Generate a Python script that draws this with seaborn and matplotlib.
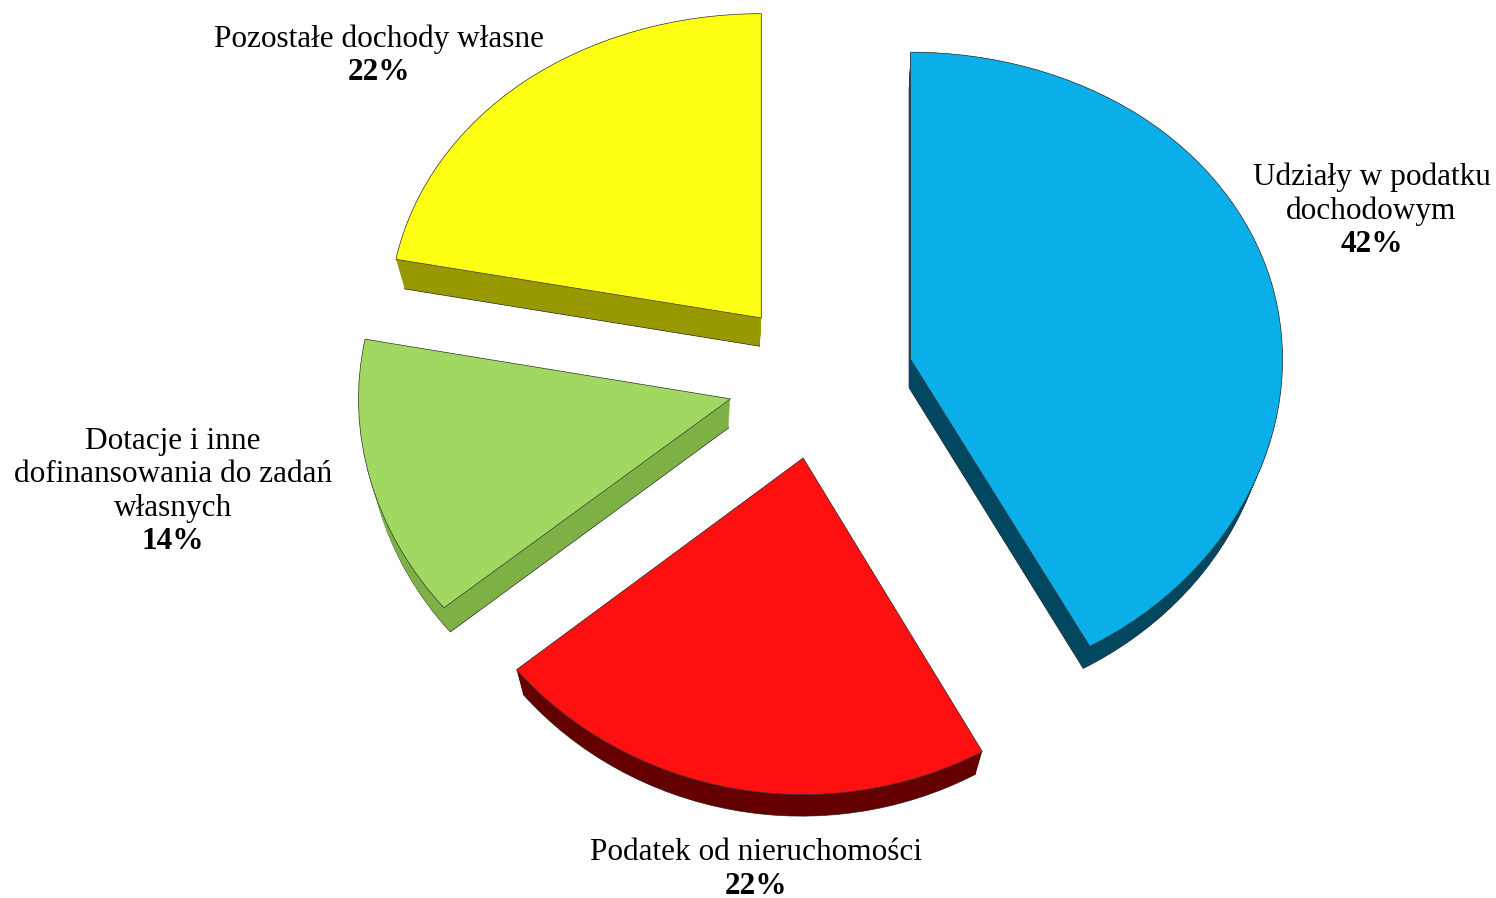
import numpy as np
import matplotlib.pyplot as plt
import seaborn as sns

labels = ["Udziały w podatku\ndochodowym",
          "Podatek od nieruchomości",
          "Dotacje i inne\ndofinansowania do zadań\nwłasnych",
          "Pozostałe dochody własne"]
shares = [42, 22, 14, 22]
top_colors = ["#0AAEE8", "#FF1010", "#A0D862", "#FFFF14"]
side_colors = ["#00475F", "#640000", "#7DB045", "#989800"]
explode = [0.25, 0.25, 0.25, 0.25]
label_dist = [1.555, 1.547, 1.80, 1.56]
label_turn = [3.3, 4.4, 0.3, 9.9]

sns.set_theme(style="white")
plt.rcParams["font.family"] = ["Liberation Serif", "DejaVu Serif"]

# mild perspective on y: back of the pie squeezed, front stretched
k = 0.035
fwd = lambda y: y / (1 + k * y)
inv = lambda f: f / (1 - k * f)

fig = plt.figure(figsize=(14.96, 8.98), dpi=100)
ax = fig.add_axes([0, 0, 1, 1])

# fake 3d: side = copies of the pie shrunk toward a vanishing point below
vx, vy, t = -0.15, -3.2, 0.028
for i, s in enumerate(np.linspace(t, 0, 40)):
    ax.pie(shares, explode=explode, colors=side_colors, startangle=90,
           counterclock=False, center=(s * vx, s * vy), radius=1 - s,
           wedgeprops=dict(linewidth=0.5 if i == 0 else 0, edgecolor="#222222"))
wedges, _ = ax.pie(shares, explode=explode, colors=top_colors, startangle=90,
                   counterclock=False,
                   wedgeprops=dict(linewidth=0.5, edgecolor="#3a3a3a"))

for w, name, s, r, tt in zip(wedges, labels, shares, label_dist, label_turn):
    a = np.deg2rad((w.theta1 + w.theta2) / 2 + tt)
    x, y = r * np.cos(a), inv(r * np.sin(a))
    ax.annotate(name, (x, y), xytext=(0, 1.5), textcoords="offset points",
                ha="center", va="bottom", fontsize=22.5, color="black",
                multialignment="center", linespacing=1.2)
    ax.annotate(f"{s}%", (x, y), xytext=(0, -1.5), textcoords="offset points",
                ha="center", va="top", fontsize=22.5, color="black",
                fontweight="bold")

ax.set_aspect("auto")
ax.set_yscale("function", functions=(fwd, inv))
ax.set_xlim(-2.206, 1.816)
ax.set_ylim(-1.5389, 1.2392)
ax.axis("off")
fig.savefig("out.png", dpi=100)
